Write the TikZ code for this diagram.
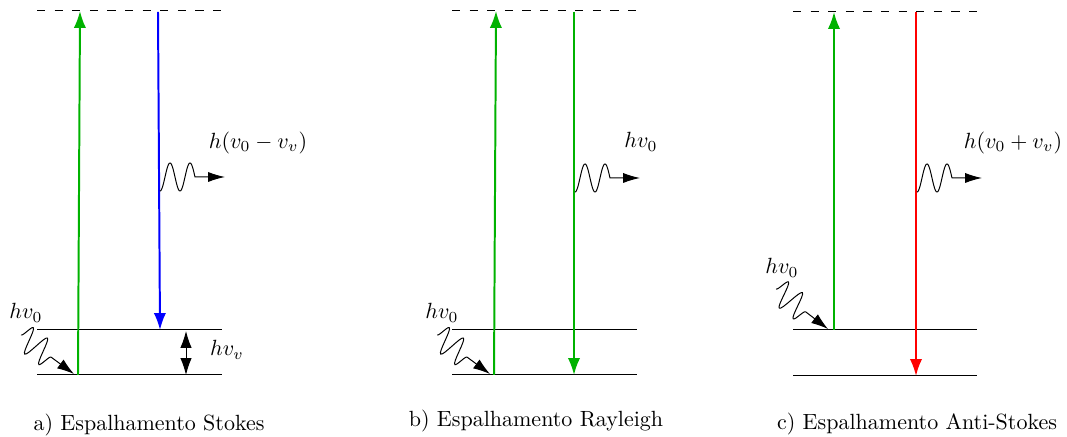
\documentclass[tikz,border=0pt]{standalone}
\usetikzlibrary{arrows.meta,decorations.pathmorphing}
\definecolor{mygreen}{RGB}{0,178,0}
\begin{document}
\begin{tikzpicture}[x=0.4545pt,y=-0.4545pt,
  level/.style={line width=0.45pt},
  virt/.style={line width=0.45pt, dash pattern=on 3.7pt off 4.3pt},
  trans/.style={line width=0.9pt, -{Latex[length=7.7pt,width=5.6pt]}},
  dbl/.style={line width=0.45pt, {Latex[length=7.7pt,width=5.2pt]}-{Latex[length=7.7pt,width=5.2pt]}},
  photonin/.style={line width=0.45pt, -{Latex[length=7.7pt,width=5pt]}, decorate, decoration={snake, amplitude=6pt, segment length=8pt, post length=9pt}},
  photonout/.style={line width=0.45pt, -{Latex[length=7.7pt,width=4.6pt]}},
  lab/.style={inner sep=0pt},
]
\useasboundingbox (0,0) rectangle (1067,437);

% ---------------- Panel a ----------------
\coordinate (a-v1) at (37,11);  \coordinate (a-v2) at (223,11);
\coordinate (a-e1) at (37,330); \coordinate (a-e2) at (222,330);
\coordinate (a-g1) at (37,375); \coordinate (a-g2) at (222,375);
\draw[virt] (a-v1) -- (a-v2);
\draw[level] (a-e1) -- (a-e2);
\draw[level] (a-g1) -- (a-g2);
\coordinate (a-up0) at (78,375); \coordinate (a-up1) at (80,11);
\draw[trans, mygreen] (a-up0) -- (a-up1);
\coordinate (a-dn0) at (158,12); \coordinate (a-dn1) at (160,330);
\draw[trans, blue] (a-dn0) -- (a-dn1);
\coordinate (a-d0) at (186,331); \coordinate (a-d1) at (186,375);
\draw[dbl] (a-d0) -- (a-d1);
\coordinate (a-p0) at (21,335); \coordinate (a-p1) at (74,374);
\draw[photonin] (a-p0) -- (a-p1);
\coordinate (a-w0) at (160,177); \coordinate (a-w1) at (225,177);
\draw[photonout, shift={(a-w0)}] plot[domain=0:35, samples=70, smooth, variable=\t] (\t,{14*cos(360*\t/20)}) -- (a-w1);
\node[lab] (a-lo) at (258,143) {$h(v_0-v_v)$};
\node[lab] (a-li) at (26,313) {$hv_0$};
\node[lab] (a-lv) at (227,350) {$hv_v$};
\node (a-cap) at (149,425) {a) Espalhamento Stokes};

% ---------------- Panel b ----------------
\coordinate (b-v1) at (452,11);  \coordinate (b-v2) at (638,11);
\coordinate (b-e1) at (452,330); \coordinate (b-e2) at (637,330);
\coordinate (b-g1) at (452,375); \coordinate (b-g2) at (637,375);
\draw[virt] (b-v1) -- (b-v2);
\draw[level] (b-e1) -- (b-e2);
\draw[level] (b-g1) -- (b-g2);
\coordinate (b-up0) at (494,375); \coordinate (b-up1) at (496,11);
\draw[trans, mygreen] (b-up0) -- (b-up1);
\coordinate (b-dn0) at (574,12); \coordinate (b-dn1) at (574,375);
\draw[trans, mygreen] (b-dn0) -- (b-dn1);
\coordinate (b-p0) at (437,335); \coordinate (b-p1) at (490,374);
\draw[photonin] (b-p0) -- (b-p1);
\coordinate (b-w0) at (575,178); \coordinate (b-w1) at (640,178);
\draw[photonout, shift={(b-w0)}] plot[domain=0:35, samples=70, smooth, variable=\t] (\t,{14*cos(360*\t/20)}) -- (b-w1);
\node[lab] (b-lo) at (641,142) {$hv_0$};
\node[lab] (b-li) at (442,313) {$hv_0$};
\node (b-cap) at (536,421) {b) Espalhamento Rayleigh};

% ---------------- Panel c ----------------
\coordinate (c-v1) at (793,12);  \coordinate (c-v2) at (981,12);
\coordinate (c-e1) at (793,330); \coordinate (c-e2) at (977,330);
\coordinate (c-g1) at (793,376); \coordinate (c-g2) at (977,376);
\draw[virt] (c-v1) -- (c-v2);
\draw[level] (c-e1) -- (c-e2);
\draw[level] (c-g1) -- (c-g2);
\coordinate (c-up0) at (834,330); \coordinate (c-up1) at (834,12);
\draw[trans, mygreen] (c-up0) -- (c-up1);
\coordinate (c-dn0) at (916,12); \coordinate (c-dn1) at (916,376);
\draw[trans, red] (c-dn0) -- (c-dn1);
\coordinate (c-p0) at (776,289); \coordinate (c-p1) at (828,329);
\draw[photonin] (c-p0) -- (c-p1);
\coordinate (c-w0) at (917,178); \coordinate (c-w1) at (982,178);
\draw[photonout, shift={(c-w0)}] plot[domain=0:35, samples=70, smooth, variable=\t] (\t,{14*cos(360*\t/20)}) -- (c-w1);
\node[lab] (c-lo) at (1013,143) {$h(v_0+v_v)$};
\node[lab] (c-li) at (782,268) {$hv_0$};
\node (c-cap) at (917,424) {c) Espalhamento Anti-Stokes};
\end{tikzpicture}
\end{document}
